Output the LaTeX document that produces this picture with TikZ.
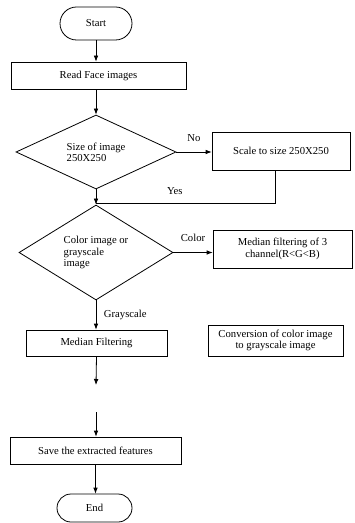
\documentclass[tikz,border=0pt]{standalone}
\usepackage{fontspec}
\setmainfont{Liberation Serif}
\usetikzlibrary{shapes.geometric,shapes.misc,arrows.meta}

\tikzset{
  termbox/.style={draw, rounded rectangle, line width=0.6pt, inner sep=0pt},
  procbox/.style={draw, rectangle, line width=0.6pt, inner sep=0pt, align=center},
  decbox/.style={draw, diamond, line width=0.6pt, inner sep=0pt, align=left},
  flow/.style={draw, line width=0.6pt, -{Latex[length=4.5pt,width=3.5pt]}},
  plain/.style={draw, line width=0.6pt},
}

\begin{document}
\begin{tikzpicture}[x=0.75pt,y=-0.75pt]
            \useasboundingbox (0,0) rectangle (354,523);
            {\fontsize{8}{8.5}\selectfont

            % Marking terminal start
            \node [termbox, minimum width=54pt, minimum height=24.75pt] (start) at (96,23.5) {Start};%

            % Marking box read
            \node [procbox, minimum width=131.25pt, minimum height=20.25pt] (read) at (98.5,75.5) {Read Face images};%

            % Marking decision size
            \node [decbox, shape aspect=2.16, minimum width=120pt, minimum height=55.5pt] (size) at (96,152) {Size of image\\250X250};%

            % Marking box scale
            \node [procbox, minimum width=103.5pt, minimum height=28.5pt] (scale) at (281,151) {Scale to size 250X250};%

            % Marking decision colour
            \node [decbox, shape aspect=1.62, minimum width=115.5pt, minimum height=71.25pt] (kind) at (96,252.5) {Color image or\\grayscale\\image};%

            % Marking box median of channels
            \node [procbox, minimum width=104.25pt, minimum height=28.5pt] (medrgb) at (282.5,249) {Median filtering of 3\\channel(R<G<B)};%

            % Marking box median filtering
            \node [procbox, minimum width=105.75pt, minimum height=19.5pt] (medfilt) at (96.5,343) {Median Filtering};%

            % Marking box conversion
            \node [procbox, minimum width=101.25pt, minimum height=23.25pt] (convert) at (275.5,340.5) {Conversion of color image\\to grayscale image};%

            % Marking box save
            \node [procbox, minimum width=128.25pt, minimum height=20.25pt] (save) at (95.5,450.5) {Save the extracted features};%

            % Marking terminal stop
            \node [termbox, minimum width=56.25pt, minimum height=21pt] (stop) at (94.5,508) {End};%

            % Marking free ends
            \coordinate (merge) at (96,203);%
            \coordinate (gapa) at (96,385);%
            \coordinate (gapb) at (96,412);%

            % Drawing arrows
            \draw [flow] (start.south) -- (start.south |- read.north);%
            \draw [flow] (read.south -| size.north) -- (size.north);%
            \draw [flow] (size.east) -- (size.east -| scale.west) node [midway, above=5pt] {No};%
            \draw [flow] (size.south) -- (kind.north);%
            \draw [plain] ([xshift=-4.5pt]scale.south) |- (merge) node [pos=0.78, above=3pt] {Yes};%
            \draw [flow] (kind.east) -- (kind.east -| medrgb.west) node [midway, above=5pt] {Color};%
            \draw [flow] (kind.south) -- (kind.south |- medfilt.north) node [midway, right=3pt] {Grayscale};%
            \draw [flow] (medfilt.south) -- (gapa);%
            \draw [flow] (gapb) -- (gapb |- save.north);%
            \draw [flow] (save.south) -- (save.south |- stop.north);%
            }
\end{tikzpicture}
\end{document}
